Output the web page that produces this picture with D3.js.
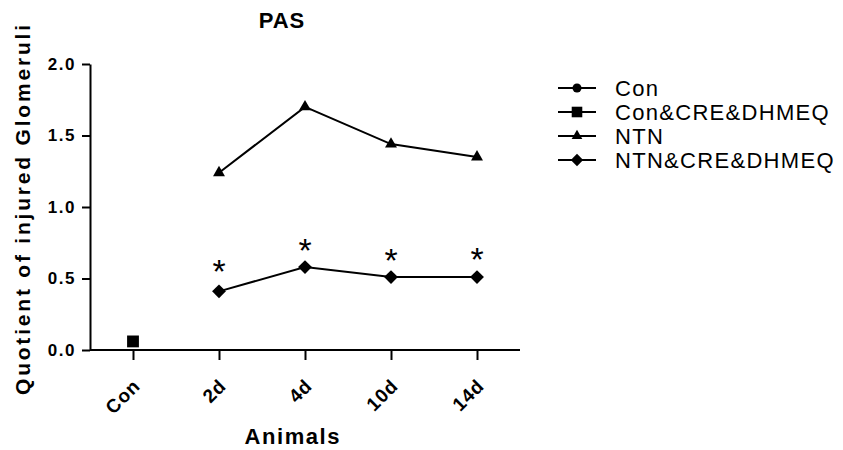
<!DOCTYPE html>
<html>
<head>
<meta charset="utf-8">
<script src="https://cdn.jsdelivr.net/npm/d3@7"></script>
<style>
  body { margin: 0; background: #fff; }
  svg { display: block; font-family: "Liberation Sans", Arial, Helvetica, sans-serif; }
</style>
</head>
<body>
<div id="chart"></div>
<script>
// Categories on the x axis
var categories = ["Con", "2d", "4d", "10d", "14d"];

// Series values (null = no point at that category)
var seriesNames = ["Con", "Con&CRE&DHMEQ", "NTN", "NTN&CRE&DHMEQ"];
var conValues = [0.06, null, null, null, null];
var conCreValues = [0.06, null, null, null, null];
var ntnValues = [null, 1.24, 1.70, 1.44, 1.35];
var ntnCreValues = [null, 0.41, 0.58, 0.51, 0.51];

// Where the significance asterisks sit (in y units)
var starLevels = [null, 0.60, 0.75, 0.68, 0.685];

// Y tick values
var yTicks = [0, 0.5, 1.0, 1.5, 2.0];

var width = 843, height = 450;
var plot = { left: 90, right: 520, top: 64, bottom: 350 };

var svg = d3.select("#chart").append("svg")
    .attr("width", width)
    .attr("height", height);

// Scales
var x = d3.scalePoint()
    .domain(categories)
    .range([plot.left, plot.right])
    .padding(0.5);

var y = d3.scaleLinear()
    .domain([0, 2])
    .range([plot.bottom, plot.top]);

// Axes
var yAxis = svg.append("g")
    .attr("transform", `translate(${plot.left},0)`)
    .call(d3.axisLeft(y).tickValues(yTicks).tickFormat(d3.format(".1f"))
        .tickSize(8).tickSizeOuter(0).tickPadding(6));

var xAxis = svg.append("g")
    .attr("transform", `translate(0,${plot.bottom})`)
    .call(d3.axisBottom(x).tickSize(10).tickSizeOuter(0).tickPadding(0));

xAxis.select(".domain").attr("d", `M${plot.left},0H${plot.right}`);

[xAxis, yAxis].forEach(function (ax) {
    ax.attr("font-size", null).attr("font-family", null);
    ax.selectAll("path, line").attr("stroke", "#000").attr("stroke-width", 2);
    ax.selectAll("text")
        .attr("fill", "#000")
        .style("font-size", "17px")
        .style("font-weight", "bold")
        .style("letter-spacing", "1.5px");
});

// Rotate the x tick labels
xAxis.selectAll(".tick text")
    .attr("transform", "translate(8,37) rotate(-45)")
    .attr("x", 0)
    .attr("y", 0)
    .attr("dy", 0)
    .style("font-size", "19px")
    .style("letter-spacing", "1px")
    .style("text-anchor", "end");

// Titles
svg.append("text")
    .attr("x", 282)
    .attr("y", 28)
    .attr("text-anchor", "middle")
    .style("font-size", "22px")
    .style("font-weight", "bold")
    .style("letter-spacing", "1px")
    .text("PAS");

svg.append("text")
    .attr("x", 292)
    .attr("y", 444)
    .attr("text-anchor", "middle")
    .attr("textLength", 95)
    .attr("lengthAdjust", "spacing")
    .style("font-size", "22px")
    .style("font-weight", "bold")
    .text("Animals");

svg.append("text")
    .attr("transform", "translate(30,210) rotate(-90)")
    .attr("text-anchor", "middle")
    .attr("textLength", 370)
    .attr("lengthAdjust", "spacing")
    .style("font-size", "21px")
    .style("font-weight", "bold")
    .text("Quotient of injured Glomeruli");

// Marker shapes per series
var markers = [
    { type: d3.symbolCircle, size: 80, rotate: 0 },
    { type: d3.symbolSquare, size: 140, rotate: 0 },
    { type: d3.symbolTriangle, size: 62, rotate: 0 },
    { type: d3.symbolSquare, size: 96, rotate: 45 }
];
var allValues = [conValues, conCreValues, ntnValues, ntnCreValues];

var line = d3.line()
    .defined(d => d.v != null)
    .x(d => x(d.c))
    .y(d => y(d.v));

allValues.forEach(function (vals, i) {
    var pts = categories.map((c, j) => ({ c: c, v: vals[j] }));
    svg.append("path")
        .datum(pts)
        .attr("fill", "none")
        .attr("stroke", "#000")
        .attr("stroke-width", 2)
        .attr("d", line);
    svg.selectAll(null)
        .data(pts.filter(d => d.v != null))
        .enter().append("path")
        .attr("d", d3.symbol().type(markers[i].type).size(markers[i].size))
        .attr("transform", d => `translate(${x(d.c)},${y(d.v)}) rotate(${markers[i].rotate})`)
        .attr("fill", "#000");
});

// Significance asterisks
svg.selectAll(null)
    .data(categories.map((c, j) => ({ c: c, v: starLevels[j] })).filter(d => d.v != null))
    .enter().append("text")
    .attr("x", d => x(d.c))
    .attr("y", d => y(d.v) + 19)
    .attr("text-anchor", "middle")
    .style("font-size", "34px")
    .text("*");

// Legend
var legendY = [88, 112, 136, 160];
var legend = svg.append("g");
seriesNames.forEach(function (name, i) {
    var g = legend.append("g").attr("transform", `translate(0,${legendY[i]})`);
    g.append("line")
        .attr("x1", 558).attr("x2", 596)
        .attr("stroke", "#000").attr("stroke-width", 2);
    g.append("path")
        .attr("d", d3.symbol().type(markers[i].type).size(markers[i].size * 0.8))
        .attr("transform", `translate(577,0) rotate(${markers[i].rotate})`)
        .attr("fill", "#000");
    g.append("text")
        .attr("x", 615)
        .attr("y", 8)
        .style("font-size", "22px")
        .style("letter-spacing", "1.3px")
        .text(name);
});
</script>
</body>
</html>
